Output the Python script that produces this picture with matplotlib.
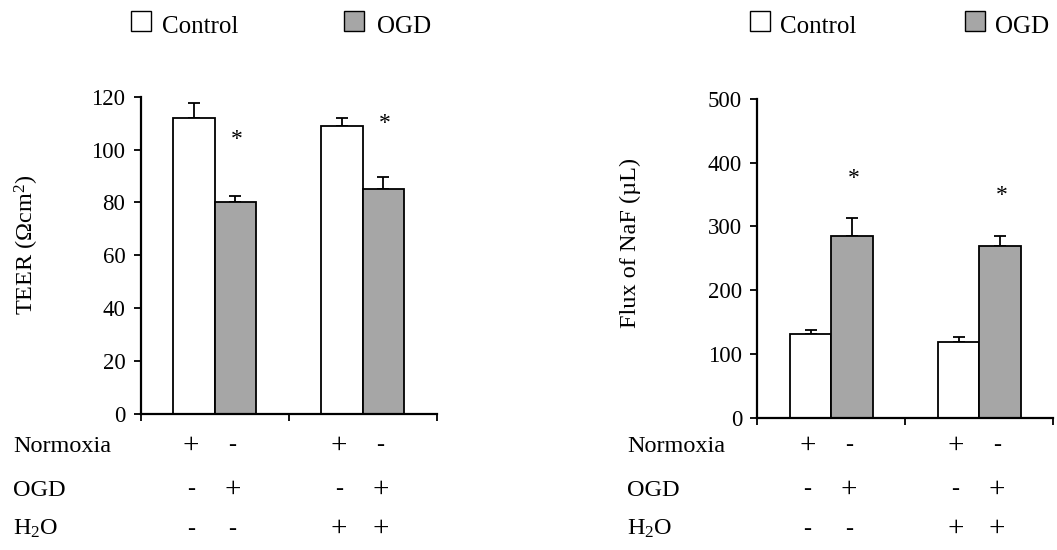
import matplotlib
matplotlib.use('Agg')
import matplotlib.pyplot as plt
from matplotlib.patches import Rectangle
from matplotlib.transforms import blended_transform_factory

plt.rcParams['font.family'] = ['Liberation Serif', 'DejaVu Serif']
plt.rcParams['mathtext.fontset'] = 'custom'
plt.rcParams['mathtext.rm'] = 'Liberation Serif'
plt.rcParams['mathtext.it'] = 'Liberation Serif:italic'
plt.rcParams['font.size'] = 16

# data
groups = [0, 1]
teer_control = [112, 109]
teer_control_err = [5.6, 3]
teer_ogd = [80, 85]
teer_ogd_err = [2.5, 4.5]
teer_star = [104, 110]

naf_control = [131, 119]
naf_control_err = [7, 7]
naf_ogd = [285, 270]
naf_ogd_err = [28, 15]
naf_star = [376, 348]

row_labels = ['Normoxia', 'OGD', 'H$_2$O']
row_signs = [['+', '-', '+', '-'],
             ['-', '+', '-', '+'],
             ['-', '-', '+', '+']]

W, H = 1057, 550
fig = plt.figure(figsize=(W / 100, H / 100), dpi=100)

bw = 0.28
grey = '#a6a6a6'
fs = 17.5


def panel(rect, ctrl, ctrl_err, ogd, ogd_err, stars, ymax, step, ylabel, label_xy, table_x):
    ax = fig.add_axes(rect)
    xc = [g - bw / 2 for g in groups]
    xo = [g + bw / 2 for g in groups]
    ax.bar(xc, ctrl, width=bw, color='white', edgecolor='black', linewidth=1.3, zorder=2)
    ax.bar(xo, ogd, width=bw, color=grey, edgecolor='black', linewidth=1.3, zorder=2)
    ax.errorbar(xc, ctrl, yerr=[[0, 0], ctrl_err], fmt='none', ecolor='black',
                elinewidth=1.3, capsize=4, capthick=1.3, zorder=1)
    ax.errorbar(xo, ogd, yerr=[[0, 0], ogd_err], fmt='none', ecolor='black',
                elinewidth=1.3, capsize=4, capthick=1.3, zorder=1)
    for x, s in zip(xo, stars):
        ax.text(x + 0.01, s, '*', ha='center', va='center', fontsize=17)

    ax.set_xlim(-0.5, 1.5)
    ax.set_ylim(0, ymax)
    ax.set_yticks(range(0, ymax + 1, step))
    ax.set_xticks([-0.5, 0.5, 1.5])
    ax.set_xticklabels([])
    ax.tick_params(direction='out', length=5, width=1.3, labelsize=16.5, pad=6)
    for sp in ['top', 'right']:
        ax.spines[sp].set_visible(False)
    for sp in ['left', 'bottom']:
        ax.spines[sp].set_linewidth(1.6)

    fig.text(label_xy[0] / W, 1 - label_xy[1] / H, ylabel, rotation=90,
             ha='center', va='center', fontsize=fs)

    # condition table under the axis
    tr = blended_transform_factory(ax.transData, fig.transFigure)
    xs = [xc[0], xo[0], xc[1], xo[1]]
    row_y = [446, 490, 529]
    for lab, signs, ry in zip(row_labels, row_signs, row_y):
        fig.text(table_x / W, 1 - ry / H, lab, ha='left', va='center', fontsize=fs)
        for x, s in zip(xs, signs):
            size = 21 if s == '+' else fs
            ax.text(x - 0.02, 1 - ry / H, s, transform=tr, ha='center', va='center', fontsize=size)
    return ax


panel([140.7 / W, 1 - 414 / H, 296 / W, (414 - 96.7) / H],
      teer_control, teer_control_err, teer_ogd, teer_ogd_err, teer_star,
      120, 20, 'TEER (Ωcm$^2$)', (27, 245), 13)
panel([757.3 / W, 1 - 417.7 / H, 296 / W, (417.7 - 99) / H],
      naf_control, naf_control_err, naf_ogd, naf_ogd_err, naf_star,
      500, 100, 'Flux of NaF (µL)', (630, 243), 627)

# legends
for bx, tx, label, col in [(131, 162, 'Control', 'white'), (344, 377, 'OGD', grey),
                           (750, 780, 'Control', 'white'), (965, 995, 'OGD', grey)]:
    fig.patches.append(Rectangle((bx / W, 1 - 31 / H), 20 / W, 20 / H, facecolor=col,
                                 edgecolor='black', linewidth=1.0,
                                 transform=fig.transFigure, figure=fig))
    fig.text(tx / W, 1 - 33 / H, label, ha='left', va='baseline', fontsize=18)

fig.savefig('out.png', dpi=100)
